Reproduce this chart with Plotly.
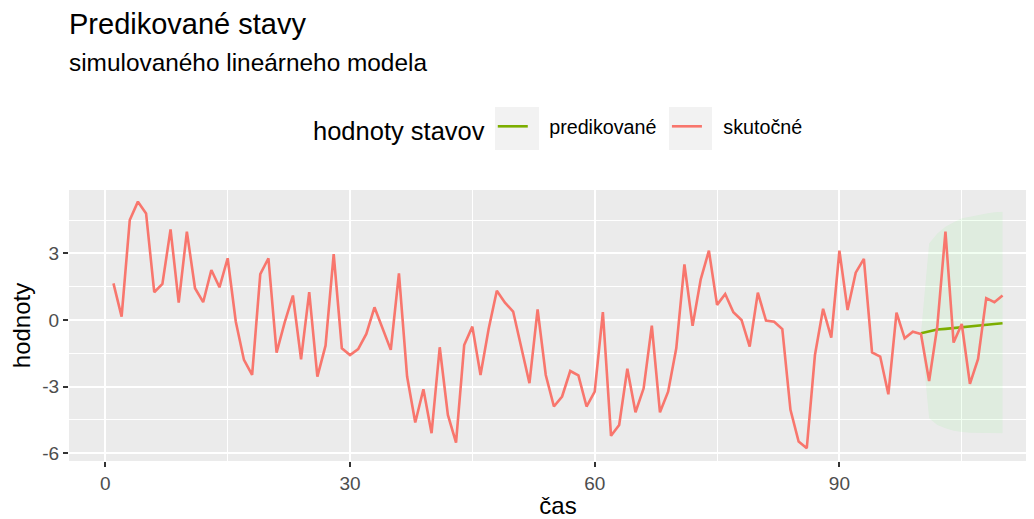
import plotly.graph_objects as go

# skutočné hodnoty stavov (t = 1..110)
cas = list(range(1, 111))
skutocne = [
    1.65, 0.15, 4.5, 5.33, 4.8, 1.25, 1.62, 4.08, 0.78, 3.98,
    1.43, 0.8, 2.25, 1.47, 2.78, -0.08, -1.8, -2.48, 2.06, 2.78,
    -1.47, -0.1, 1.1, -1.77, 1.25, -2.55, -1.16, 2.97, -1.28, -1.58,
    -1.31, -0.63, 0.57, -0.38, -1.35, 2.1, -2.55, -4.62, -3.12, -5.1,
    -1.23, -4.28, -5.53, -1.13, -0.3, -2.48, -0.4, 1.32, 0.78, 0.38,
    -1.2, -2.85, 0.48, -2.48, -3.9, -3.45, -2.3, -2.5, -3.9, -3.23,
    0.35, -5.22, -4.73, -2.2, -4.16, -3.08, -0.26, -4.16, -3.23, -1.28,
    2.5, -0.26, 1.83, 3.12, 0.68, 1.17, 0.35, 0.0, -1.2, 1.23,
    -0.03, -0.08, -0.41, -4.05, -5.48, -5.78, -1.58, 0.5, -0.8, 3.12,
    0.45, 2.13, 2.75, -1.46, -1.65, -3.35, 0.33, -0.83, -0.53, -0.63,
    -2.75, -0.3, 3.98, -1.02, -0.18, -2.88, -1.76, 0.98, 0.8, 1.1,
]

# predikované hodnoty (t = 100..110) a interval
cas_pred = list(range(100, 111))
predikovane = [-0.6, -0.53, -0.43, -0.4, -0.36, -0.32, -0.28, -0.23, -0.21, -0.18, -0.15]
horna = [-0.6, 3.45, 3.9, 4.2, 4.4, 4.58, 4.65, 4.73, 4.8, 4.85, 4.88]
dolna = [-0.6, -4.43, -4.73, -4.88, -4.99, -5.05, -5.08, -5.1, -5.11, -5.11, -5.11]

x_ticks = [0, 30, 60, 90]
y_ticks = [-6, -3, 0, 3]
y_labels = ["-6", "-3", "0", "3"]

RED = "#F8766D"
GREEN = "#7CAE00"
FONT = "Liberation Sans, Arial, sans-serif"

# page has an 8px body margin; the ggplot panel runs past the right window edge
W, H = 1043, 511
L, T, R, B = 61, 182, 4, 58
PW, PH = W - L - R, H - T - B


def px_x(x):
    # page pixel -> paper x
    return (x - 8 - L) / PW


def px_y(y):
    # page pixel -> paper y
    return (H - B - (y - 8)) / PH


fig = go.Figure()

# interval predikcie
fig.add_trace(go.Scatter(
    x=cas_pred + cas_pred[::-1],
    y=horna + dolna[::-1],
    fill="toself",
    fillcolor="rgba(0,255,0,0.05)",
    line=dict(width=0),
    mode="lines",
    hoverinfo="skip",
    showlegend=False,
))

fig.add_trace(go.Scatter(
    x=cas_pred, y=predikovane, mode="lines", name="   predikované ",
    line=dict(color=GREEN, width=2.6),
))
fig.add_trace(go.Scatter(
    x=cas, y=skutocne, mode="lines", name="   skutočné",
    line=dict(color=RED, width=2.6),
))

fig.update_layout(
    width=W,
    height=H,
    margin=dict(l=L, r=R, t=T, b=B),
    paper_bgcolor="white",
    plot_bgcolor="#EBEBEB",
    font=dict(family=FONT, color="black"),
    title=dict(
        text="Predikované stavy",
        x=L / W, xref="container", xanchor="left",
        y=1 - 16 / H, yref="container", yanchor="middle",
        font=dict(size=29, color="black"),
    ),
    legend=dict(
        orientation="h",
        x=px_x(311), xanchor="left",
        y=px_y(129), yanchor="middle",
        title=dict(text="hodnoty stavov", side="left", font=dict(size=25.5)),
        font=dict(size=19.7),
        bgcolor="rgba(0,0,0,0)",
        itemwidth=30,
    ),
    showlegend=True,
)

fig.add_annotation(
    text="simulovaného lineárneho modela",
    xref="paper", yref="paper", x=0, y=px_y(62), xshift=-2,
    xanchor="left", yanchor="middle", showarrow=False,
    font=dict(size=24.4, color="black"),
)

# sivé pozadie legendových kľúčov
for x0, x1 in [(495, 539), (669, 712)]:
    fig.add_shape(
        type="rect", xref="paper", yref="paper",
        x0=px_x(x0), x1=px_x(x1),
        y0=px_y(150), y1=px_y(107),
        fillcolor="#F2F2F2", line=dict(width=0), layer="below",
    )

fig.update_xaxes(
    range=[-4.45, 115.45],
    tickvals=x_ticks,
    ticks="outside", ticklen=5, tickcolor="#333333", tickwidth=2,
    tickfont=dict(size=19, color="#4D4D4D"),
    showgrid=True, gridcolor="white", gridwidth=2,
    minor=dict(dtick=15, tick0=0, showgrid=True, gridcolor="white", gridwidth=1),
    zeroline=False, showline=False,
    title=dict(text="čas", font=dict(size=24), standoff=4),
)
fig.update_yaxes(
    range=[-6.355, 5.855],
    tickvals=y_ticks,
    ticktext=y_labels,
    ticks="outside", ticklen=5, tickcolor="#333333", tickwidth=2,
    tickfont=dict(size=19, color="#4D4D4D"),
    showgrid=True, gridcolor="white", gridwidth=2,
    minor=dict(dtick=1.5, tick0=0, showgrid=True, gridcolor="white", gridwidth=1),
    zeroline=False, showline=False,
    title=dict(text="hodnoty", font=dict(size=24), standoff=12),
)

fig.write_html("out.html")
